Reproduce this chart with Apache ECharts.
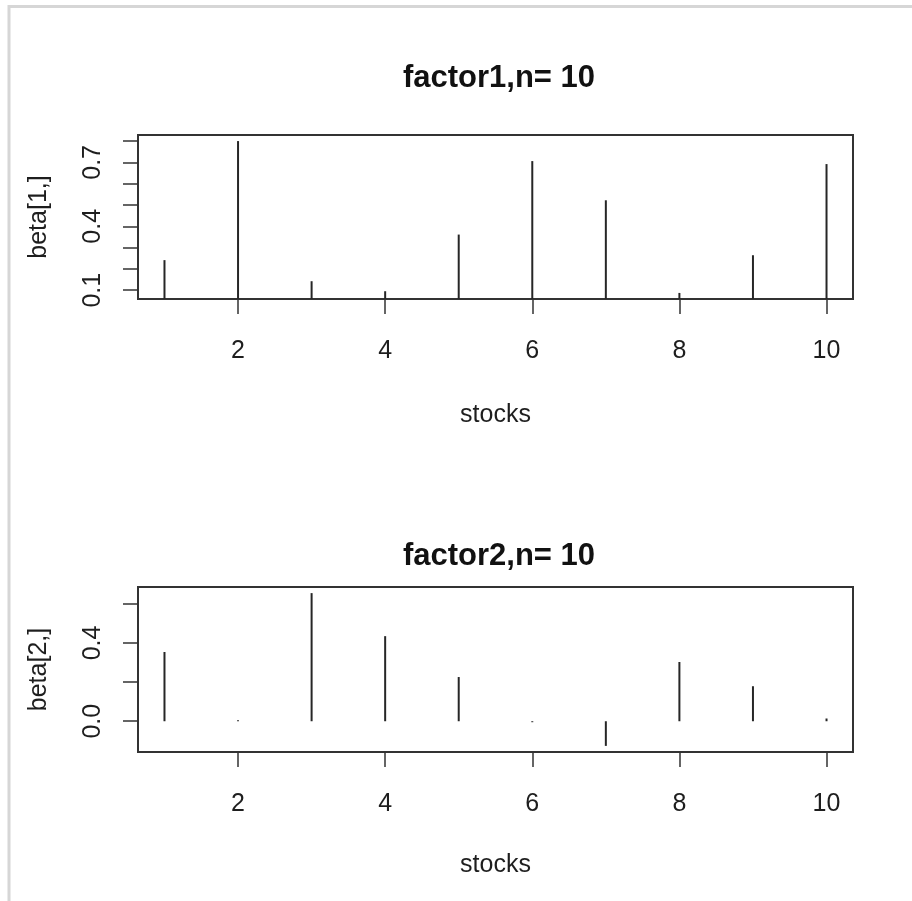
<!DOCTYPE html>
<html>
<head>
<meta charset="utf-8">
<script src="https://cdn.jsdelivr.net/npm/echarts@6/dist/echarts.min.js"></script>
<style>
  html, body { margin: 0; padding: 0; background: #fff; }
  #chart { width: 912px; height: 901px; }
</style>
</head>
<body>
<div id="chart"></div>
<script>
// Factor loadings per stock
const stocks = [1, 2, 3, 4, 5, 6, 7, 8, 9, 10];
const beta1 = [0.241, 0.800, 0.142, 0.095, 0.361, 0.706, 0.522, 0.087, 0.264, 0.692];
const beta2 = [0.354, 0.005, 0.655, 0.435, 0.226, -0.005, -0.126, 0.303, 0.179, 0.014];

// Axis ticks and labels
const xTicks = [2, 4, 6, 8, 10];
const y1Ticks = [0.1, 0.2, 0.3, 0.4, 0.5, 0.6, 0.7, 0.8];
const y1Labels = [0.1, 0.4, 0.7];
const y2Ticks = [0.0, 0.2, 0.4, 0.6];
const y2Labels = [0.0, 0.4];

const titles = ['factor1,n= 10', 'factor2,n= 10'];
const yNames = ['beta[1,]', 'beta[2,]'];
const xName = 'stocks';

// Range padded by 4% on each side
function padded(values) {
  const lo = Math.min(...values), hi = Math.max(...values);
  const d = (hi - lo) * 0.04;
  return [lo - d, hi + d];
}

const FONT = '"Liberation Sans", Arial, sans-serif';
const INK = '#1e1e1e';
const xr = padded(stocks);
const yr1 = padded(beta1);
const yr2 = padded(beta2);

const grids = [
  { left: 138, right: 59, top: 135, height: 164 },
  { left: 138, right: 59, top: 587, height: 165 }
];

function xAxis(i) {
  return {
    type: 'value', gridIndex: i, min: xr[0], max: xr[1], position: 'bottom',
    name: xName, nameLocation: 'middle', nameGap: i === 0 ? 104 : 101,
    nameTextStyle: { fontFamily: FONT, fontSize: 25, color: INK },
    axisLine: { show: false, onZero: false },
    splitLine: { show: false },
    axisTick: { show: true, inside: false, length: 15, customValues: xTicks,
      lineStyle: { color: '#333', width: 1.5 } },
    axisLabel: { show: true, customValues: xTicks, margin: 40,
      fontFamily: FONT, fontSize: 25, color: INK }
  };
}

function yAxis(i, range, ticks, labels, name) {
  return {
    type: 'value', gridIndex: i, min: range[0], max: range[1], position: 'left',
    name: name, nameLocation: 'middle', nameGap: 86, nameRotate: 90,
    nameTextStyle: { fontFamily: FONT, fontSize: 25, color: INK },
    axisLine: { show: false, onZero: false },
    splitLine: { show: false },
    axisTick: { show: true, inside: false, length: 15, customValues: ticks,
      lineStyle: { color: '#333', width: 1.5 } },
    axisLabel: { show: true, customValues: labels, rotate: 90, margin: 32,
      fontFamily: FONT, fontSize: 25, color: INK,
      formatter: v => Number(v).toFixed(1) }
  };
}

function spikes(i, values) {
  return {
    type: 'bar', xAxisIndex: i, yAxisIndex: i,
    data: stocks.map((s, k) => [s, values[k]]),
    barWidth: 2,
    itemStyle: { color: '#262626' },
    silent: true, animation: false
  };
}

const chart = echarts.init(document.getElementById('chart'), null, { renderer: 'canvas' });
chart.setOption({
  backgroundColor: '#fff',
  animation: false,
  title: titles.map((t, i) => ({
    text: t, left: 494, top: i === 0 ? 58 : 536, textAlign: 'center',
    textStyle: { fontFamily: FONT, fontSize: 31, fontWeight: 'bold', color: '#111' }
  })),
  grid: grids.map(g => Object.assign({ show: true, borderColor: '#333', borderWidth: 2,
    backgroundColor: 'transparent', containLabel: false, outerBoundsMode: 'none' }, g)),
  xAxis: [xAxis(0), xAxis(1)],
  yAxis: [yAxis(0, yr1, y1Ticks, y1Labels, yNames[0]), yAxis(1, yr2, y2Ticks, y2Labels, yNames[1])],
  series: [spikes(0, beta1), spikes(1, beta2)],
  graphic: [
    { type: 'line', shape: { x1: 9, y1: 6.5, x2: 912, y2: 6.5 }, style: { stroke: '#d6d6d6', lineWidth: 3 } },
    { type: 'line', shape: { x1: 9, y1: 5, x2: 9, y2: 901 }, style: { stroke: '#d6d6d6', lineWidth: 3 } }
  ]
});
</script>
</body>
</html>
